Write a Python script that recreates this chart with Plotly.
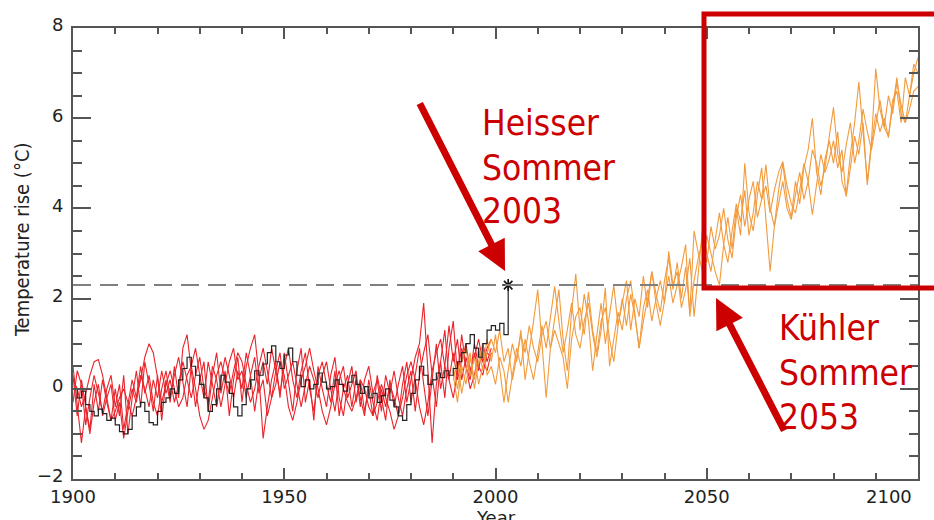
import plotly.graph_objects as go

# ---------------- data ----------------
obs_years = list(range(1900, 2004))
obs_values = [
    0.0, -0.2, -0.05, -0.35, -0.5, -0.6, -0.45, -0.55, -0.7, -0.65,
    -0.8, -0.95, -1.0, -0.9, -0.6, -0.4, -0.3, -0.5, -0.75, -0.8,
    -0.5, -0.3, -0.2, 0.0, -0.1, 0.2, 0.45, 0.7, 0.5, 0.3,
    0.1, -0.2, -0.5, -0.35, 0.0, 0.3, 0.15, -0.1, -0.4, -0.6,
    -0.35, 0.0, 0.2, 0.4, 0.3, 0.55, 0.8, 0.95, 0.6, 0.45,
    0.75, 0.9, 0.6, 0.3, 0.05, 0.2, 0.0, 0.1, 0.35, 0.15,
    0.0, 0.05, 0.2, 0.1, -0.05, 0.15, 0.3, 0.1, -0.1, 0.05,
    -0.2, -0.1, -0.3, -0.15, 0.0, -0.25, -0.4, -0.6, -0.7, -0.35,
    -0.1, 0.2, 0.5, 0.3, 0.1, 0.2, 0.35, 0.25, 0.4, 0.3,
    0.45, 0.6, 0.8, 1.0, 1.2, 0.9, 0.7, 1.0, 1.3, 1.4,
    1.3, 1.45, 1.2, 2.3,
]

hist_years = list(range(1900, 2000))
hist_run_a = [
    0.5, -0.3, -1.2, -0.4, -0.9, 0.1, -0.5, 0.2, -0.3, -0.7,
    0.0, -0.6, 0.3, -1.0, -0.2, 0.4, -0.4, 0.6, 0.1, -0.5,
    0.3, -0.7, 0.2, -0.3, 0.5, -0.2, 0.9, 1.2, 0.4, -0.4,
    0.2, 0.6, -0.5, 0.3, 0.8, -0.1, 0.4, -0.6, 0.2, 0.7,
    -0.3, 0.5, 0.9, 1.2, 0.3, -1.1, -0.4, 0.2, 0.6, -0.2,
    0.8, 0.1, -0.5, 0.4, 0.9, -0.3, 0.2, -0.7, 0.5, 0.0,
    -0.4, 0.3, 0.7, -0.2, -0.6, 0.1, 0.5, -0.3, 0.2, -0.5,
    0.0, -0.6, 0.3, -0.2, -0.7, 0.2, -0.4, 0.1, 0.5, -0.3,
    0.2, 0.7, 1.0, 1.9, 0.4, -1.2, 0.1, 0.6, -0.2, 0.9,
    1.5, 0.3, 1.2, 0.5, 0.2, 0.8, 0.4, 1.0, 0.6, 0.9,
]
hist_run_b = [
    0.2, 0.0, -0.4, -0.1, 0.3, 0.6, 0.65, 0.3, -0.2, -0.7,
    -0.5, -0.2, 0.0, -0.3, -0.6, -0.2, 0.2, 0.7, 1.0, 0.8,
    0.2, -0.3, 0.1, 0.4, 0.0, -0.4, -0.2, 0.3, 0.5, 0.0,
    -0.6, -0.9, -0.7, -0.2, 0.3, 0.6, 0.2, -0.1, 0.4, 0.8,
    0.6, 0.1, -0.3, 0.0, 0.5, 0.9, 0.4, -0.2, 0.1, 0.6,
    0.3, -0.4, -0.7, -0.3, 0.2, 0.5, 0.9, 0.4, 0.0, -0.5,
    -0.8, -0.4, 0.1, 0.4, 0.0, -0.3, -0.5, -0.2, 0.2, 0.0,
    -0.4, -0.6, -0.3, 0.1, -0.2, -0.5, -0.9, -0.6, -0.2, 0.3,
    0.6, 0.2, -0.4, -0.8, -0.3, 0.4, 0.8, 1.1, 0.5, 0.2,
    -0.2, 0.4, 0.9, 0.5, 0.0, 0.3, 0.8, 0.6, 0.9, 1.1,
]
hist_run_c = [
    -0.3, 0.4, 0.1, -0.8, -0.2, 0.3, -0.1, -0.5, 0.0, 0.3,
    -0.4, 0.1, -0.9, -0.3, 0.2, -0.2, 0.5, -0.1, 0.3, -0.3,
    -0.6, 0.0, 0.4, -0.2, 0.3, 0.7, 0.1, -0.4, 0.5, 0.9,
    0.3, -0.2, 0.6, 0.1, -0.4, 0.2, 0.7, 0.3, -0.2, 0.4,
    0.0, 0.8, 0.3, -0.5, 0.2, 0.6, 0.1, 0.9, 0.4, -0.1,
    0.5, 0.9, 0.2, -0.2, 0.4, 0.8, 0.0, -0.5, 0.3, 0.6,
    0.1, -0.3, 0.4, -0.6, 0.0, 0.3, -0.4, 0.2, -0.2, -0.6,
    0.2, -0.3, -0.7, 0.0, -0.4, 0.1, -0.2, -0.6, 0.1, 0.6,
    -0.3, 0.3, 0.9, 0.1, -0.6, 0.2, 1.0, 0.0, 0.5, 1.4,
    0.6, 1.1, 0.2, 0.7, 0.3, 1.0, 0.5, 0.3, 0.8, 0.7,
]
hist_run_d = [
    0.3, -0.6, 0.2, -0.4, -1.0, -0.3, 0.1, -0.6, -0.2, 0.1,
    -0.7, -0.3, -1.1, -0.5, 0.0, -0.3, 0.3, 0.0, -0.4, 0.2,
    -0.2, 0.4, -0.1, 0.2, -0.3, 0.1, 0.6, 0.2, -0.2, 0.3,
    0.7, 0.0, -0.3, 0.5, 0.2, -0.4, 0.1, 0.6, 0.9, 0.2,
    0.4, -0.2, 0.3, 0.7, -0.1, 0.2, -0.6, -0.2, 0.4, 0.8,
    0.0, 0.3, 0.6, 0.1, -0.4, 0.1, 0.5, 0.2, -0.2, 0.3,
    0.6, 0.0, -0.5, 0.2, 0.5, -0.2, 0.1, 0.4, -0.4, 0.2,
    0.5, -0.1, 0.2, -0.5, 0.3, -0.1, 0.4, -0.2, -0.6, 0.0,
    0.4, -0.5, 0.3, 0.8, 1.2, 0.3, -0.4, 0.6, 1.3, 0.2,
    0.8, 0.2, 0.6, 1.0, 0.4, 0.7, 1.1, 0.6, 0.4, 0.8,
]

proj_years = list(range(1990, 2101))
proj_run_a = [
    0.3, -0.3, 0.5, 0.1, 0.7, 0.2, 0.9, 0.4, 1.1, 0.6,
    1.2, 0.5, -0.3, 0.4, 1.0, 0.6, 1.3, 0.2, 0.8, 1.5,
    2.2, 1.0, -0.2, 0.9, 1.6, 2.2, 1.1, 0.4, 1.7, 2.55,
    1.3, 2.1, 1.5, 0.4, 1.2, 1.9, 1.0, 1.6, 2.3, 1.4,
    1.9, 2.4, 1.3, 2.0, 1.6, 2.5, 1.8, 2.6, 2.1, 1.7,
    2.4, 2.9, 2.2, 2.8, 2.0, 2.7, 1.7, 3.5, 3.0, 2.6,
    3.4, 3.0, 2.6, 2.3, 3.2, 3.8, 3.1, 4.0, 3.4, 5.0,
    3.9, 3.5, 4.3, 4.9, 3.7, 2.6, 3.6, 4.4, 5.0, 4.2,
    3.8, 4.6, 4.1, 4.9, 5.3, 6.0, 4.8, 4.3, 5.1, 5.5,
    5.0, 5.7, 4.6, 4.3, 5.2, 5.9, 6.8, 5.6, 4.6, 5.5,
    7.1, 6.2, 5.8, 5.6, 6.3, 6.9, 6.1, 5.9, 6.5, 7.0, 7.35,
]
proj_run_b = [
    0.5, 0.0, 0.6, 0.9, 0.3, 0.7, 0.1, 0.5, 0.8, 1.1,
    0.8, 1.3, 0.6, 0.9, 0.2, 0.7, 1.2, 0.8, 1.4, 0.9,
    0.6, 1.2, 1.5, 0.9, 1.3, 1.0, 0.7, 0.0, 1.1, 1.6,
    1.8, 1.2, 2.15, 1.3, 0.8, 1.5, 1.8, 1.1, 0.6, 1.4,
    2.0, 1.4, 2.1, 1.6, 0.9, 1.8, 2.2, 1.5, 2.0, 2.4,
    1.9, 3.05, 2.3, 2.6, 1.8, 2.2, 2.9, 1.6, 2.5, 3.55,
    3.0, 2.6, 3.3, 3.9, 3.2, 2.8, 3.5, 4.1, 3.7, 4.4,
    3.4, 3.9, 4.6, 4.2, 4.97, 4.0, 3.6, 4.1, 4.6, 4.0,
    3.75, 4.3, 4.8, 4.2, 4.6, 5.3, 5.0, 4.5, 4.9, 5.6,
    6.24, 5.2, 4.8, 5.4, 5.9, 5.0, 5.5, 6.2, 5.7, 5.3,
    5.9, 6.4, 5.8, 6.5, 6.1, 6.8, 6.3, 5.9, 6.2, 6.6, 6.7,
]
proj_run_c = [
    0.2, 0.6, -0.1, 0.4, 0.8, 0.0, 0.6, 1.0, 0.3, 0.5,
    0.1, 0.7, 0.4, -0.3, 0.3, 0.9, 0.5, 1.1, 0.6, 0.2,
    0.8, 1.4, 0.9, 1.6, 2.27, 1.5, 0.8, 1.3, 1.9, 1.2,
    0.9, 1.5, 1.9, 1.2, 0.7, 1.3, 2.24, 0.5, 1.1, 1.7,
    1.3, 2.0, 2.4, 1.7, 0.9, 1.5, 2.0, 2.6, 1.9, 1.4,
    2.0, 2.5, 1.9, 2.3, 2.7, 3.2, 1.6, 2.4, 2.9, 3.3,
    2.8, 3.6, 3.1, 3.4, 4.0, 3.3, 2.9, 3.8, 4.3, 3.6,
    4.2, 4.6, 3.8, 4.2, 4.5, 3.9, 4.4, 4.8, 5.04, 4.5,
    4.1, 3.9, 4.4, 5.0, 4.6, 3.86, 4.5, 5.2, 4.8, 5.1,
    5.5, 4.9, 5.3, 4.26, 4.9, 5.6, 5.2, 5.9, 4.52, 5.4,
    6.1, 5.7, 6.0, 5.57, 6.4, 6.6, 5.9, 6.9, 6.5, 7.2, 7.0,
]

threshold_2003 = 2.3
marker_year = 2003

x_tickvals = [1900, 1950, 2000, 2050, 2100]
x_ticktext = ["1900", "1950", "2000", "2050", ""]
last_x_label = "2100"
y_tickvals = [-2, 0, 2, 4, 6, 8]
y_ticktext = ["\u22122", "0", "2", "4", "6", "8"]

label_hot = ["Heisser", "Sommer", "2003"]
label_cool = ["K\u00fchler", "Sommer", "2053"]

# ---------------- styling ----------------
RED_LINE = "#e9242b"
ORANGE_LINE = "#f29b3d"
BLACK_LINE = "#222222"
ANNOT_RED = "#cc0000"
AXIS_COL = "#555555"
TICKFONT = dict(family="DejaVu Sans", size=18, color="#222222")

W, H = 934, 520
L, R, T, B = 73, 16, 28, 41
PW, PH = W - L - R, H - T - B


def px(xp):
    return (xp - L) / PW


def py(yp):
    return (H - B - yp) / PH


fig = go.Figure()

for run in [hist_run_a, hist_run_b, hist_run_c, hist_run_d]:
    fig.add_trace(go.Scatter(x=hist_years, y=run, mode="lines",
                             line=dict(color=RED_LINE, width=1.1), showlegend=False,
                             hoverinfo="skip"))
for run in [proj_run_a, proj_run_b, proj_run_c]:
    fig.add_trace(go.Scatter(x=proj_years, y=run, mode="lines",
                             line=dict(color=ORANGE_LINE, width=1.1), showlegend=False,
                             hoverinfo="skip"))
fig.add_trace(go.Scatter(x=obs_years, y=obs_values, mode="lines", line_shape="hv",
                         line=dict(color=BLACK_LINE, width=1.2), showlegend=False,
                         hoverinfo="skip"))
fig.add_trace(go.Scatter(x=[marker_year], y=[threshold_2003], mode="markers",
                         marker=dict(symbol="asterisk-open", size=10, color="#111111",
                                     line=dict(color="#111111", width=1.6)),
                         showlegend=False, hoverinfo="skip"))

# dashed threshold line
fig.add_shape(type="line", xref="paper", yref="y", x0=0, x1=1,
              y0=threshold_2003, y1=threshold_2003,
              line=dict(color="#808080", width=2, dash="18px,9px"), layer="above")

# red highlight rectangle
fig.add_shape(type="rect", xref="paper", yref="paper",
              x0=px(704), x1=px(945), y0=py(288), y1=py(14),
              line=dict(color=ANNOT_RED, width=5), fillcolor="rgba(0,0,0,0)",
              layer="above")

# arrows
fig.add_annotation(xref="paper", yref="paper", x=px(505), y=py(271),
                   ax=419 - 505, ay=102 - 271, axref="pixel", ayref="pixel",
                   text="", showarrow=True, arrowhead=2, arrowsize=0.85,
                   arrowwidth=7, arrowcolor=ANNOT_RED)
fig.add_annotation(xref="paper", yref="paper", x=px(716), y=py(298),
                   ax=785 - 716, ay=432 - 298, axref="pixel", ayref="pixel",
                   text="", showarrow=True, arrowhead=2, arrowsize=0.85,
                   arrowwidth=7, arrowcolor=ANNOT_RED)

ANN_FONT = dict(family="DejaVu Sans Condensed", size=35, color=ANNOT_RED)
for txt, yc in zip(label_hot, [123, 168, 211]):
    fig.add_annotation(xref="paper", yref="paper", x=px(480), y=py(yc),
                       xanchor="left", yanchor="middle", text=txt,
                       showarrow=False, font=ANN_FONT)
for txt, yc in zip(label_cool, [328, 373, 417]):
    fig.add_annotation(xref="paper", yref="paper", x=px(777), y=py(yc),
                       xanchor="left", yanchor="middle", text=txt,
                       showarrow=False, font=ANN_FONT)

# last x tick label (sits left of the corner tick in the original)
fig.add_annotation(xref="paper", yref="paper", x=px(889), y=py(484),
                   text=last_x_label, showarrow=False, xanchor="center",
                   yanchor="top", font=TICKFONT)

# axis titles
fig.add_annotation(xref="paper", yref="paper", x=px(22), y=py(240),
                   text="Temperature rise (\u00b0C)", textangle=-90,
                   showarrow=False, xanchor="center", yanchor="middle",
                   font=dict(family="DejaVu Sans Condensed", size=20, color="#222222"))
fig.add_annotation(xref="paper", yref="paper", x=px(496), y=py(505),
                   text="Year", showarrow=False, xanchor="center", yanchor="top",
                   font=TICKFONT)

fig.update_xaxes(range=[1900, 2100], tickmode="array", tickvals=x_tickvals,
                 ticktext=x_ticktext,
                 ticks="inside", ticklen=11, tickwidth=1.5, tickcolor=AXIS_COL,
                 minor=dict(dtick=10, tick0=1900, ticks="inside", ticklen=6,
                            tickwidth=1.5, tickcolor=AXIS_COL),
                 showline=True, linecolor=AXIS_COL, linewidth=1.8, mirror="ticks",
                 showgrid=False, zeroline=False, tickfont=TICKFONT, automargin=False)
fig.update_yaxes(range=[-2, 8], tickmode="array", tickvals=y_tickvals,
                 ticktext=y_ticktext,
                 ticks="inside", ticklen=18, tickwidth=1.5, tickcolor=AXIS_COL,
                 minor=dict(dtick=0.5, tick0=0, ticks="inside", ticklen=9,
                            tickwidth=1.5, tickcolor=AXIS_COL),
                 showline=True, linecolor=AXIS_COL, linewidth=1.8, mirror="ticks",
                 showgrid=False, zeroline=False, tickfont=TICKFONT, automargin=False,
                 ticklabelstandoff=4, ticklabelshift=-3)

fig.update_layout(width=W, height=H, margin=dict(l=L, r=R, t=T, b=B, pad=0,
                                                 autoexpand=False),
                  paper_bgcolor="white", plot_bgcolor="white", showlegend=False)

fig.write_html("out.html", config={"displayModeBar": False},
               post_script="document.body.style.margin='0px';"
                           "document.body.style.overflow='hidden';")
